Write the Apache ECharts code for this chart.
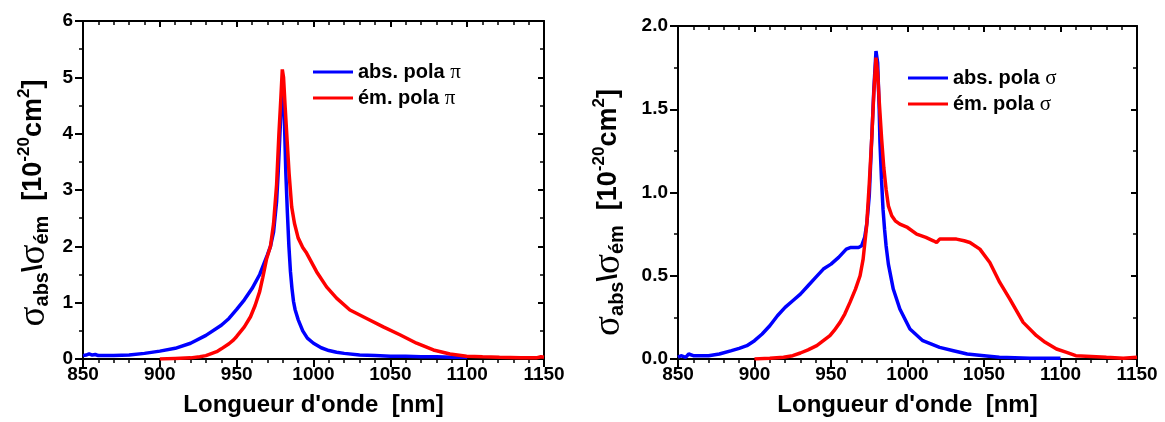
<!DOCTYPE html>
<html>
<head>
<meta charset="utf-8">
<script src="https://cdn.jsdelivr.net/npm/echarts@6/dist/echarts.min.js"></script>
<style>
html,body{margin:0;padding:0;background:#fff;}
#c{width:1165px;height:422px;}
</style>
</head>
<body>
<div id="c"></div>
<script>
// ---------- data ----------
// left panel: pi polarisation
const absPiX = [850,852,854,855,856,858,860,870,880,890,900,910,920,930,940,945,950,955,960,965,970,972,974,976,977,978,979,980,981,982,983,984,985,986,987,988,990,993,996,1000,1005,1010,1015,1020,1030,1040,1050,1060,1070,1080,1090,1100];
const absPiY = [0.06,0.07,0.09,0.11,0.07,0.08,0.06,0.06,0.07,0.10,0.14,0.19,0.28,0.42,0.60,0.72,0.88,1.05,1.25,1.50,1.85,2.00,2.25,2.80,3.30,3.90,4.50,4.89,4.30,3.30,2.60,2.00,1.55,1.25,1.02,0.88,0.70,0.50,0.37,0.28,0.20,0.15,0.12,0.10,0.07,0.06,0.05,0.05,0.04,0.04,0.03,0.03];
const emPiX = [900,910,920,926,930,937,940,945,948,950,955,959,962,965,967,969.5,972,974,976,977.5,978.7,979.7,980.5,981.5,983,984.1,985.8,987.6,990,993,995.5,1002,1008.5,1015,1023.7,1034.6,1045.4,1056.2,1067.1,1078,1088.8,1099.6,1110,1121,1135,1145,1148,1150];
const emPiY = [0.00,0.01,0.02,0.04,0.06,0.13,0.18,0.27,0.34,0.40,0.57,0.75,0.95,1.20,1.45,1.78,2.00,2.40,3.10,4.00,4.60,5.14,5.00,4.50,3.80,3.30,2.70,2.41,2.15,1.98,1.88,1.55,1.28,1.08,0.87,0.72,0.57,0.43,0.28,0.16,0.09,0.05,0.04,0.03,0.02,0.02,0.04,0.03];
// right panel: sigma polarisation
const absSigX = [850,852,855,857,860,865,870,877,885,890,895,900,905,910,915,920,925,930,935,940,945,950,955,960,963,966,968,970,972,973.5,975,976.6,978,979.4,980.5,981.5,982,983,984,985,986,987.5,990.7,995,1001.6,1010,1021,1030,1039,1050,1060,1080,1100];
const absSigY = [0.01,0.02,0.01,0.03,0.02,0.02,0.02,0.03,0.05,0.064,0.08,0.11,0.15,0.20,0.26,0.31,0.35,0.39,0.44,0.49,0.54,0.57,0.61,0.66,0.67,0.67,0.67,0.68,0.73,0.82,0.98,1.32,1.62,1.85,1.78,1.50,1.30,1.08,0.90,0.78,0.68,0.57,0.42,0.30,0.18,0.11,0.07,0.05,0.03,0.02,0.01,0.005,0.005];
const emSigX = [900,910,919,925,930,935,940.7,945,949.3,952,955.9,959,962.4,966,969,971,973.3,975,976.6,978,979.4,980.5,981.5,983.1,984.5,986,987.5,989.7,992,995,1000,1006,1012,1016.9,1019,1021,1026,1032,1037,1040.8,1047.3,1053.8,1060.3,1066.9,1075.6,1084.3,1090,1097.4,1104,1110,1120,1130,1141,1150];
const emSigY = [0.00,0.005,0.01,0.02,0.036,0.055,0.08,0.11,0.14,0.17,0.22,0.27,0.34,0.42,0.50,0.60,0.80,1.05,1.32,1.60,1.81,1.72,1.55,1.32,1.15,1.02,0.92,0.86,0.83,0.81,0.79,0.75,0.73,0.71,0.70,0.72,0.72,0.72,0.71,0.70,0.66,0.58,0.46,0.36,0.22,0.14,0.10,0.06,0.04,0.02,0.015,0.01,0.005,0.01];

const seriesNames = ['abs. pola π', 'ém. pola π', 'abs. pola σ', 'ém. pola σ'];
const xTitle = "Longueur d'onde  [nm]";
const xMin = 850, xMax = 1150, xStep = 50;
const yLeftMax = 6, yLeftStep = 1;
const yRightMax = 2.0, yRightStep = 0.5;

// ---------- styling ----------
const SANS = "'Liberation Sans', Arial, sans-serif";
const SERIF = "'Liberation Serif', 'Times New Roman', serif";
const pair = (xs, ys) => xs.map((x, i) => [x, ys[i]]);

const yTitleRich = {
  s: {fontFamily: SERIF, fontSize: 37, color: '#000', lineHeight: 36},
  sub: {fontFamily: SANS, fontWeight: 'bold', fontSize: 20, color: '#000', verticalAlign: 'bottom', lineHeight: 15},
  b: {fontFamily: SANS, fontWeight: 'bold', fontSize: 27, color: '#000', lineHeight: 36},
  sup: {fontFamily: SANS, fontWeight: 'bold', fontSize: 17, color: '#000', verticalAlign: 'top', lineHeight: 14}
};
const yTitle = '{s|σ}{sub|abs}{b|\\}{s|σ}{sub|ém}{b|  [10}{sup|-20}{b|cm}{sup|2}{b|]}';

function xAxes(grid, bottom) {
  const common = {
    type: 'value', gridIndex: grid, min: xMin, max: xMax, interval: xStep,
    splitLine: {show: false},
    axisLine: {show: true, onZero: false, lineStyle: {color: '#000', width: 2}},
    minorTick: {show: true, splitNumber: 5, length: 4, lineStyle: {color: '#000', width: 1.5}},
  };
  if (bottom) {
    return Object.assign(common, {
      position: 'bottom',
      axisTick: {show: true, length: 8, lineStyle: {color: '#000', width: 2}},
      axisLabel: {show: true, margin: 6, color: '#000', fontFamily: SANS, fontWeight: 'bold', fontSize: 19, formatter: v => String(v)},
      name: xTitle, nameLocation: 'middle', nameGap: 34,
      nameTextStyle: {color: '#000', fontFamily: SANS, fontWeight: 'bold', fontSize: 24}
    });
  }
  return Object.assign(common, {
    position: 'top',
    axisTick: {show: true, inside: true, length: 6, lineStyle: {color: '#000', width: 2}},
    axisLabel: {show: false}
  });
}
function yAxes(grid, max, step, left, gap, shift, fmt) {
  const common = {
    type: 'value', gridIndex: grid, min: 0, max: max, interval: step,
    splitLine: {show: false},
    axisLine: {show: true, onZero: false, lineStyle: {color: '#000', width: 2}},
    minorTick: {show: true, splitNumber: 2, length: 4, lineStyle: {color: '#000', width: 1.5}},
  };
  if (left) {
    return Object.assign(common, {
      position: 'left',
      axisTick: {show: true, length: 8, lineStyle: {color: '#000', width: 2}},
      axisLabel: {show: true, margin: 10, color: '#000', fontFamily: SANS, fontWeight: 'bold', fontSize: 19, formatter: fmt},
      name: yTitle, nameLocation: 'middle', nameRotate: 90, nameGap: gap,
      nameTextStyle: {rich: yTitleRich, padding: [0, shift, 0, 0]}
    });
  }
  return Object.assign(common, {
    position: 'right',
    axisTick: {show: true, inside: true, length: 6, lineStyle: {color: '#000', width: 2}},
    axisLabel: {show: false}
  });
}

function legendFmt(name) {
  const g = name.slice(-1);
  return '{t|' + name.slice(0, -1) + '}{g|' + g + '}';
}
const legendRich = {
  t: {fontFamily: SANS, fontWeight: 'bold', fontSize: 20, color: '#000'},
  g: {fontFamily: SERIF, fontSize: 21, color: '#000'}
};

function line(name, data, xi, yi, color) {
  return {
    name: name, type: 'line', xAxisIndex: xi, yAxisIndex: yi, data: data,
    showSymbol: false, symbol: 'none', smooth: false, animation: false,
    lineStyle: {color: color, width: 3.5}, itemStyle: {color: color}
  };
}

const chart = echarts.init(document.getElementById('c'), null, {renderer: 'canvas'});
chart.setOption({
  backgroundColor: '#fff',
  animation: false,
  grid: [
    {left: 83, top: 21, width: 461, height: 338},
    {left: 678, top: 26, width: 459, height: 334}
  ],
  xAxis: [xAxes(0, true), xAxes(0, false), xAxes(1, true), xAxes(1, false)],
  yAxis: [
    yAxes(0, yLeftMax, yLeftStep, true, 31, 26, v => String(v)),
    yAxes(0, yLeftMax, yLeftStep, false),
    yAxes(1, yRightMax, yRightStep, true, 51, 40, v => v.toFixed(1)),
    yAxes(1, yRightMax, yRightStep, false)
  ],
  legend: [
    {data: [seriesNames[0], seriesNames[1]], orient: 'vertical', left: 308, top: 56,
     icon: 'rect', itemWidth: 40, itemHeight: 3, itemGap: 4,
     formatter: legendFmt, textStyle: {rich: legendRich, lineHeight: 22}},
    {data: [seriesNames[2], seriesNames[3]], orient: 'vertical', left: 903, top: 62,
     icon: 'rect', itemWidth: 40, itemHeight: 3, itemGap: 4,
     formatter: legendFmt, textStyle: {rich: legendRich, lineHeight: 22}}
  ],
  series: [
    line(seriesNames[0], pair(absPiX, absPiY), 0, 0, '#0000ff'),
    line(seriesNames[1], pair(emPiX, emPiY), 0, 0, '#ff0000'),
    line(seriesNames[2], pair(absSigX, absSigY), 2, 2, '#0000ff'),
    line(seriesNames[3], pair(emSigX, emSigY), 2, 2, '#ff0000')
  ]
});
</script>
</body>
</html>
